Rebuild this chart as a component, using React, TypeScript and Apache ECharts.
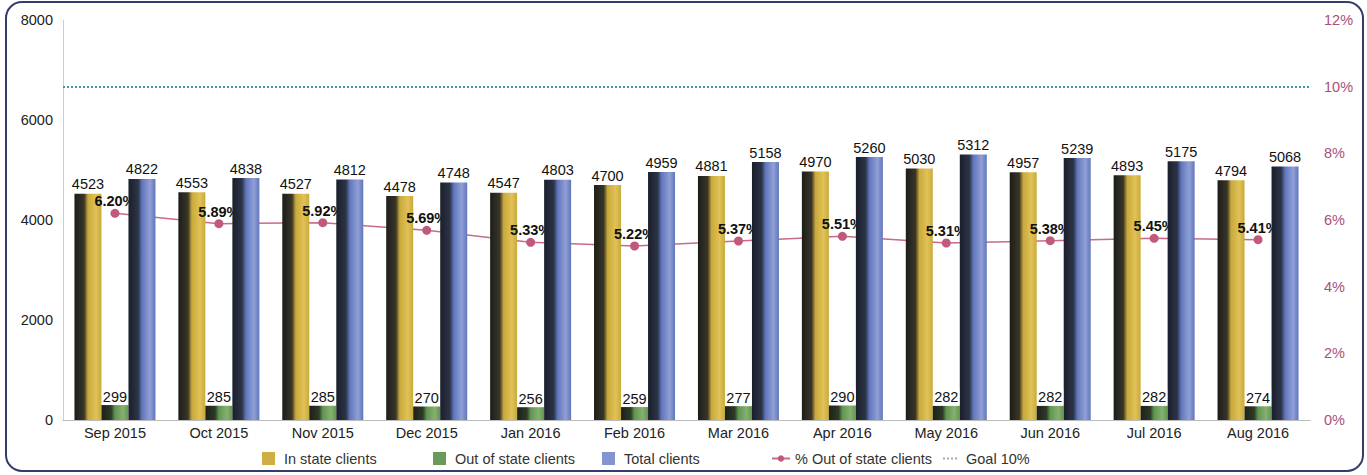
import React, { useEffect, useRef } from "react";
import * as echarts from "echarts";

const categories = ["Sep 2015", "Oct 2015", "Nov 2015", "Dec 2015", "Jan 2016", "Feb 2016", "Mar 2016", "Apr 2016", "May 2016", "Jun 2016", "Jul 2016", "Aug 2016"];
const inState = [4523, 4553, 4527, 4478, 4547, 4700, 4881, 4970, 5030, 4957, 4893, 4794];
const outState = [299, 285, 285, 270, 256, 259, 277, 290, 282, 282, 282, 274];
const totalClients = [4822, 4838, 4812, 4748, 4803, 4959, 5158, 5260, 5312, 5239, 5175, 5068];
const pctOut = [6.2, 5.89, 5.92, 5.69, 5.33, 5.22, 5.37, 5.51, 5.31, 5.38, 5.45, 5.41];
const goal = 10;

const grad = (dark: string, dark2: string, mid: string, light: string) =>
  new echarts.graphic.LinearGradient(0, 0, 1, 0, [
    { offset: 0, color: dark },
    { offset: 0.36, color: dark2 },
    { offset: 0.5, color: mid },
    { offset: 0.8, color: light },
    { offset: 1, color: mid },
  ]);

export default function App() {
  const ref = useRef<HTMLDivElement>(null);
  useEffect(() => {
    const chart = echarts.init(ref.current!, null, { renderer: "svg" });
    const font = "Liberation Sans, Arial, sans-serif";
    const fs = 14.5;
    const barLabel = { show: true, position: "top", color: "#111", fontSize: fs, fontFamily: font, distance: 2 };
    const legendBase = {
      top: 451, itemGap: 0, selectedMode: false, padding: 0,
      textStyle: { fontSize: fs, color: "#333", fontFamily: font, padding: [0, 0, 0, 4] },
    };
    chart.setOption({
      animation: false,
      backgroundColor: "#fff",
      textStyle: { fontFamily: font },
      grid: { left: 63, right: 57, top: 20, bottom: 55 },
      graphic: [
        { type: "rect", shape: { x: 6, y: 2, width: 1357, height: 469, r: 16 }, style: { fill: "none", stroke: "#343c6a", lineWidth: 2 }, silent: true },
      ],
      legend: [
        { ...legendBase, left: 262, data: [{ name: "In state clients", icon: "rect", itemStyle: { color: "#cfae45" } }], itemWidth: 13, itemHeight: 13 },
        { ...legendBase, left: 433, data: [{ name: "Out of state clients", icon: "rect", itemStyle: { color: "#6a9a5a" } }], itemWidth: 13, itemHeight: 13 },
        { ...legendBase, left: 602, data: [{ name: "Total clients", icon: "rect", itemStyle: { color: "#8494d0" } }], itemWidth: 13, itemHeight: 13 },
        { ...legendBase, left: 771, data: ["% Out of state clients"], itemWidth: 18, itemHeight: 8, textStyle: { ...legendBase.textStyle, padding: [0, 0, 0, 0] } },
        { ...legendBase, left: 942, data: [{ name: "Goal 10%", itemStyle: { opacity: 0 } }], itemWidth: 16, itemHeight: 8, textStyle: { ...legendBase.textStyle, padding: [0, 0, 0, 2] } },
      ],
      xAxis: {
        type: "category",
        data: categories,
        axisLine: { lineStyle: { color: "#bbb" } },
        axisTick: { show: false },
        axisLabel: { color: "#222", fontSize: fs, margin: 5 },
      },
      yAxis: [
        {
          type: "value", min: 0, max: 8000, interval: 2000,
          axisLine: { show: true, lineStyle: { color: "#ccc" } },
          axisTick: { show: false },
          splitLine: { show: false },
          axisLabel: { color: "#222", fontSize: fs, margin: 10, formatter: (v: number) => String(v) },
        },
        {
          type: "value", min: 0, max: 12, interval: 2,
          axisLine: { show: false },
          axisTick: { show: false },
          splitLine: { show: false },
          axisLabel: { color: "#a8507a", fontSize: fs, margin: 14, formatter: "{value}%" },
        },
      ],
      series: [
        {
          name: "In state clients", type: "bar", data: inState, barWidth: 27, barGap: "0%", z: 2,
          itemStyle: { color: grad("#1c1c1a", "#3a3628", "#c9a93a", "#e0c257") },
          label: barLabel,
        },
        {
          name: "Out of state clients", type: "bar", data: outState, barWidth: 27, barGap: "0%", z: 4,
          itemStyle: { color: grad("#1c201a", "#2e3a28", "#5f9650", "#86b070") },
          label: { ...barLabel, backgroundColor: "#fff", padding: [1, 1, 0, 1], distance: 1 },
        },
        {
          name: "Total clients", type: "bar", data: totalClients, barWidth: 27, barGap: "0%", z: 4,
          itemStyle: { color: grad("#1b1f2a", "#2c3448", "#6076bc", "#909fd6") },
          label: barLabel,
        },
        {
          name: "% Out of state clients", type: "line", yAxisIndex: 1, data: pctOut, z: 1,
          symbol: "circle", symbolSize: 9,
          lineStyle: { color: "#c86a88", width: 1.5 },
          itemStyle: { color: "#c05a7c" },
          label: { show: false },
        },
        {
          name: "pct-labels", type: "line", yAxisIndex: 1, data: pctOut, z: 3,
          symbol: "circle", symbolSize: 9,
          lineStyle: { width: 0, color: "rgba(0,0,0,0)" },
          itemStyle: { color: "rgba(0,0,0,0)", borderWidth: 0 },
          silent: true,
          label: { show: true, position: "top", distance: 0, color: "#111", fontSize: fs, fontWeight: "bold", formatter: (p: any) => p.value.toFixed(2) + "%" },
        },
        {
          name: "Goal 10%", type: "line", yAxisIndex: 1, data: [], symbol: "none",
          lineStyle: { type: "dotted", color: "#aaa", width: 1.5 },
          itemStyle: { color: "#aaa" },
          markLine: {
            silent: true, symbol: "none", label: { show: false },
            lineStyle: { type: "dotted", color: "#3a9a9a", width: 2 },
            data: [{ yAxis: goal }],
          },
        },
      ],
    });
    return () => chart.dispose();
  }, []);
  return <div ref={ref} style={{ position: "fixed", left: 0, top: 0, width: 1367, height: 475 }} />;
}
